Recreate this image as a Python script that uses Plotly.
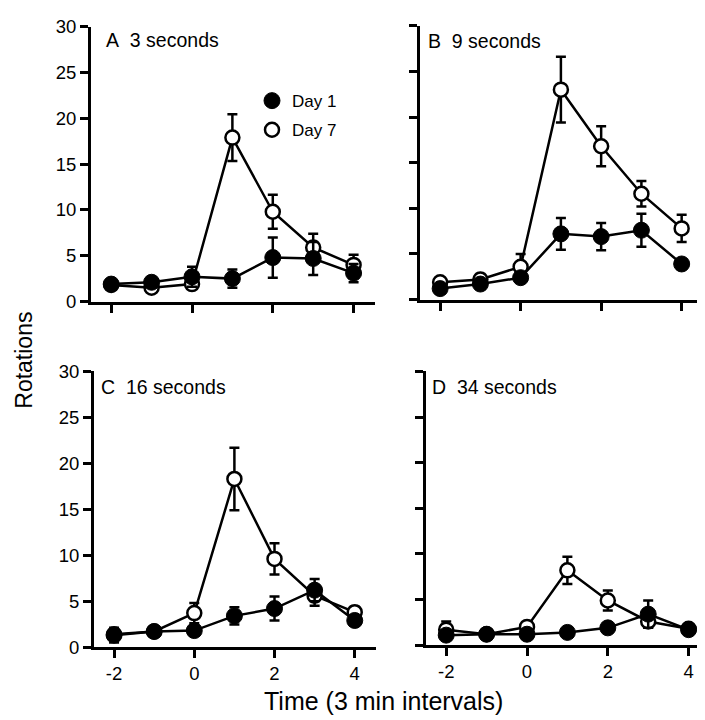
import plotly.graph_objects as go

x_vals = [-2, -1, 0, 1, 2, 3, 4]

panel_labels = ["A\u00a0\u00a03 seconds", "B\u00a0\u00a09 seconds", "C\u00a0\u00a016 seconds", "D\u00a0\u00a034 seconds"]

A_day1 = [1.9, 2.1, 2.7, 2.5, 4.8, 4.7, 3.1]
A_day1_err = [0.3, 0.4, 1.1, 1.0, 2.2, 1.8, 1.0]
A_day7 = [1.8, 1.5, 1.9, 17.9, 9.8, 5.9, 4.0]
A_day7_err = [0.3, 0.3, 0.4, 2.55, 1.85, 1.5, 1.1]

B_day1 = [1.2, 1.7, 2.4, 7.2, 6.9, 7.6, 3.9]
B_day1_err = [0.4, 0.4, 0.5, 1.75, 1.5, 1.8, 0.3]
B_day7 = [1.9, 2.2, 3.6, 23.0, 16.8, 11.6, 7.8]
B_day7_err = [0.5, 0.6, 1.4, 3.6, 2.2, 1.4, 1.5]

C_day1 = [1.3, 1.7, 1.8, 3.4, 4.2, 6.2, 2.9]
C_day1_err = [0.8, 0.4, 0.3, 0.95, 1.3, 1.2, 0.3]
C_day7 = [1.4, 1.7, 3.7, 18.3, 9.6, 5.6, 3.8]
C_day7_err = [0.5, 0.4, 1.1, 3.4, 1.7, 1.1, 0.6]

D_day1 = [1.1, 1.2, 1.2, 1.4, 1.9, 3.4, 1.7]
D_day1_err = [0.2, 0.2, 0.2, 0.2, 0.3, 1.5, 0.3]
D_day7 = [1.7, 1.2, 2.0, 8.2, 4.9, 2.6, 1.8]
D_day7_err = [0.9, 0.2, 0.3, 1.5, 1.1, 0.7, 0.3]

y_ticks = [0, 5, 10, 15, 20, 25, 30]
x_ticks = [-2, 0, 2, 4]
x_tick_text = ["-2", "0", "2", "4"]

FONT = "Liberation Sans, Arial, Helvetica, sans-serif"
W, H = 705, 720

panels = [
    (A_day1, A_day1_err, A_day7, A_day7_err),
    (B_day1, B_day1_err, B_day7, B_day7_err),
    (C_day1, C_day1_err, C_day7, C_day7_err),
    (D_day1, D_day1_err, D_day7, D_day7_err),
]

# pixel boxes: (left, right, top, bottom)
boxes = [(83, 367, 8, 291), (412, 695, 7, 289), (86, 368, 363, 647), (418, 702, 363, 645)]
label_pos = [(96, 22), (418, 23), (91, 379), (422, 379)]

LW = 2.5
fig = go.Figure()
layout = {}
for i, (d1, e1, d7, e7) in enumerate(panels):
    n = "" if i == 0 else str(i + 1)
    xa, ya = "x" + n, "y" + n
    common = dict(mode="lines+markers", xaxis=xa, yaxis=ya, cliponaxis=False,
                  line=dict(color="black", width=LW), showlegend=False)
    fig.add_trace(go.Scatter(
        x=x_vals, y=d7, name="Day 7",
        marker=dict(size=14, color="white", line=dict(color="black", width=LW)),
        error_y=dict(type="data", array=e7, color="black", thickness=LW, width=5),
        **common))
    fig.add_trace(go.Scatter(
        x=x_vals, y=d1, name="Day 1",
        marker=dict(size=16, color="black", line=dict(color="black", width=1)),
        error_y=dict(type="data", array=e1, color="black", thickness=LW, width=5),
        **common))
    l, r, t, b = boxes[i]
    layout["xaxis" + n] = dict(
        domain=[l / W, r / W], range=[-2.5, 4.53], anchor=ya,
        tickvals=x_ticks, ticktext=x_tick_text, showticklabels=(i >= 2),
        ticks="outside", ticklen=8,
        tickwidth=2.5, tickcolor="black", showline=True, linecolor="black", linewidth=3,
        showgrid=False, zeroline=False, tickfont=dict(family=FONT, size=18.5, color="black"))
    layout["yaxis" + n] = dict(
        domain=[1 - b / H, 1 - t / H], range=[0, 30], anchor=xa,
        tickvals=y_ticks, showticklabels=(i % 2 == 0), ticks="outside", ticklen=8,
        tickwidth=2.5, tickcolor="black", showline=True, linecolor="black", linewidth=3,
        showgrid=False, zeroline=False, tickfont=dict(family=FONT, size=18.5, color="black"))

# legend-only entries (marker symbols as shown in the key of panel A)
fig.add_trace(go.Scatter(x=[None], y=[None], mode="markers", name="Day 1", legendgroup="d1",
                         marker=dict(size=16, color="black", line=dict(color="black", width=1)),
                         showlegend=True))
fig.add_trace(go.Scatter(x=[None], y=[None], mode="markers", name="Day 7", legendgroup="d7",
                         marker=dict(size=14, color="white", line=dict(color="black", width=LW)),
                         showlegend=True))

annotations = []
for i, txt in enumerate(panel_labels):
    px, py = label_pos[i]
    annotations.append(dict(text=txt, x=px / W, y=1 - py / H, xref="paper", yref="paper",
                            xanchor="left", yanchor="middle", showarrow=False,
                            font=dict(family=FONT, size=19.5, color="black")))
annotations.append(dict(text="Rotations", x=1 / W, y=1 - 352 / H, xref="paper", yref="paper",
                        textangle=-90, showarrow=False, xanchor="left", yanchor="middle",
                        font=dict(family=FONT, size=23, color="black")))
annotations.append(dict(text="Time (3 min intervals)", x=375 / W, y=1 - 703 / H, xref="paper",
                        yref="paper", showarrow=False, xanchor="center", yanchor="middle",
                        font=dict(family=FONT, size=25, color="black")))

fig.update_layout(
    width=W, height=H, margin=dict(l=0, r=0, t=0, b=0),
    plot_bgcolor="white", paper_bgcolor="white",
    annotations=annotations,
    legend=dict(x=244 / W, y=1 - 66 / H, xanchor="left", yanchor="top",
                bgcolor="rgba(0,0,0,0)", font=dict(family=FONT, size=17, color="black"),
                itemsizing="trace", traceorder="grouped", tracegroupgap=4),
    **layout)

fig.write_html("out.html")
